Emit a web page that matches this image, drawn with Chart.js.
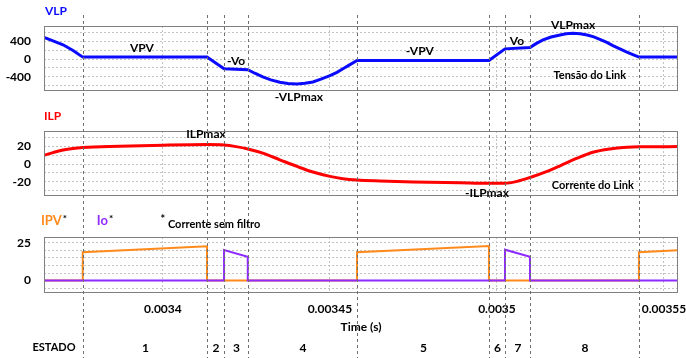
<!DOCTYPE html>
<html>
<head>
<meta charset="utf-8">
<script src="https://cdn.jsdelivr.net/npm/chart.js@4.4.1/dist/chart.umd.min.js"></script>
<style>
  html, body { margin: 0; padding: 0; background: #ffffff; }
  #wrap { position: relative; width: 686px; height: 358px; overflow: hidden; }
  #wrap canvas { position: absolute; left: 0; top: 0; }
</style>
</head>
<body>
<div id="wrap">
  <canvas id="cVlp" width="686" height="358"></canvas>
  <canvas id="cIlp" width="686" height="358"></canvas>
  <canvas id="cIpv" width="686" height="358"></canvas>
</div>
<script>
// ---- time axis (s) ----
const timeTicks = [0.0034, 0.00345, 0.0035, 0.00355];
const timeTickLabels = ['0.0034', '0.00345', '0.0035', '0.00355'];
const timeMin = 0.0033644;
const timeMax = 0.0035542;

// ---- switching states: boundaries and names ----
const stateBounds = [0.0033760, 0.0034132, 0.0034183, 0.0034254, 0.0034581,
                     0.0034976, 0.0035024, 0.0035099, 0.0035425];
const stateNames = ['1', '2', '3', '4', '5', '6', '7', '8'];

// ---- link voltage VLP (V) ----
const vlpTime = [0.0033644, 0.0033671, 0.0033701, 0.0033731, 0.0033760,
                 0.0034132, 0.0034183, 0.0034254, 0.0034275, 0.0034299,
                 0.0034323, 0.0034350, 0.0034374, 0.0034401, 0.0034425,
                 0.0034449, 0.0034473, 0.0034500, 0.0034521, 0.0034539,
                 0.0034560, 0.0034581, 0.0034976, 0.0035024, 0.0035099,
                 0.0035117, 0.0035138, 0.0035162, 0.0035189, 0.0035207,
                 0.0035228, 0.0035249, 0.0035270, 0.0035290, 0.0035308,
                 0.0035329, 0.0035347, 0.0035368, 0.0035389, 0.0035407,
                 0.0035425, 0.0035542];
const vlpValue = [490, 415, 325, 195, 45,
                  45, -217, -240, -320, -404,
                  -470, -524, -552, -562, -548,
                  -517, -455, -375, -300, -217,
                  -125, -32, -32, 232, 262,
                  350, 434, 500, 547, 572,
                  584, 575, 547, 505, 449,
                  380, 307, 232, 157, 100,
                  45, 45];
const vlpGridValues = [-600, -400, -200, 0, 200, 400, 600];
const vlpTickLabels = [400, 0, -400];

// ---- link current ILP (A) ----
const ilpTime = [0.0033644, 0.0033671, 0.0033701, 0.0033731, 0.0033760,
                 0.0033871, 0.0034000, 0.0034132, 0.0034183, 0.0034219,
                 0.0034254, 0.0034299, 0.0034350, 0.0034401, 0.0034449,
                 0.0034500, 0.0034539, 0.0034581, 0.0034650, 0.0034749,
                 0.0034889, 0.0034976, 0.0035024, 0.0035060, 0.0035099,
                 0.0035150, 0.0035189, 0.0035240, 0.0035287, 0.0035338,
                 0.0035389, 0.0035425, 0.0035542];
const ilpValue = [10, 13, 16, 17.8, 18.8,
                  20.2, 21.4, 22.1, 21.6, 19.8,
                  17.2, 12.4, 4.9, -2.6, -9,
                  -13.9, -16.5, -18, -19.1, -20.2,
                  -21.2, -21.8, -21.8, -19.6, -15.2,
                  -8.2, -1.9, 6.7, 13.5, 17.2,
                  19.1, 19.6, 19.8];
const ilpGridValues = [-30, -20, -10, 0, 10, 20, 30];
const ilpTickLabels = [20, 0, -20];

// ---- unfiltered currents IPV and Io (A) ----
const ipvTime = [0.0033644, 0.0033760, 0.0033760, 0.0034132, 0.0034132,
                 0.0034581, 0.0034581, 0.0034976, 0.0034976, 0.0035425,
                 0.0035425, 0.0035542];
const ipvValue = [0, 0, 18.7, 22.6, 0,
                  0, 18.7, 22.8, 0, 0,
                  18.7, 20];
const ioTime = [0.0033644, 0.0034183, 0.0034183, 0.0034254, 0.0034254,
                0.0035024, 0.0035024, 0.0035099, 0.0035099, 0.0035542];
const ioValue = [0, 0, 20.2, 15.7, 0,
                 0, 20.4, 15.7, 0, 0];
const ipvGridValues = [-5, 0, 5, 10, 15, 20, 25];
const ipvTickLabels = [25, 0];

const FONT = 'Lato, "Liberation Sans", Arial, sans-serif';
const BLUE = '#0a0aff', RED = '#ff0000', ORANGE = '#ff8a1c', PURPLE = '#8f2bff';
const GRID = '#c2c2c2', FRAME = '#808080';

const pts = (xs, ys) => xs.map((x, i) => ({ x: x, y: ys[i] }));

function timeAxis(withLabels) {
  return {
    type: 'linear',
    min: timeMin,
    max: timeMax,
    afterBuildTicks: s => { s.ticks = timeTicks.map(v => ({ value: v })); },
    afterFit: s => { s.height = withLabels ? 42 : 0; s.paddingLeft = 0; s.paddingRight = 0; },
    grid: { color: GRID, lineWidth: 1, drawTicks: false },
    border: { display: false, dash: [2, 2] },
    ticks: {
      display: withLabels, autoSkip: false, maxRotation: 0, padding: 10,
      color: '#000', font: { family: FONT, size: 12, weight: 'bold' },
      callback: (v, i) => timeTickLabels[i]
    },
    title: {
      display: withLabels, text: 'Time (s)', padding: 0, color: '#000',
      font: { family: FONT, size: 12, weight: 'bold' }
    }
  };
}

function valueAxis(min, max, gridValues, labels) {
  return {
    type: 'linear',
    min: min, max: max,
    afterBuildTicks: s => { s.ticks = gridValues.map(v => ({ value: v })); },
    afterFit: s => { s.width = 44; s.paddingTop = 0; s.paddingBottom = 0; },
    grid: { color: GRID, lineWidth: 1, drawTicks: false },
    border: { display: false, dash: [2, 2] },
    ticks: {
      autoSkip: false, padding: 13, color: '#000',
      font: { family: FONT, size: 12, weight: 'bold' },
      callback: (v, i) => labels.includes(gridValues[i]) ? String(gridValues[i]) : ''
    }
  };
}

// frame around the plot area plus text notes placed in data coordinates
function panelDecor(notes) {
  return {
    id: 'panelDecor',
    afterDraw(chart) {
      const { ctx, chartArea: a, scales } = chart;
      ctx.save();
      ctx.strokeStyle = FRAME;
      ctx.lineWidth = 1;
      ctx.strokeRect(Math.round(a.left) + 0.5, Math.round(a.top) + 0.5,
                     Math.round(a.right - a.left) - 1, Math.round(a.bottom - a.top));
      ctx.textBaseline = 'middle';
      notes.forEach(n => {
        const x = scales.x.getPixelForValue(n.t);
        const y = scales.y.getPixelForValue(n.v);
        ctx.font = 'bold ' + (n.size || 12) + 'px ' + FONT;
        ctx.fillStyle = n.color || '#000';
        ctx.textAlign = n.align || 'center';
        ctx.fillText(n.text, x, y);
        if (n.sup) {
          const w = ctx.measureText(n.text).width;
          const sx = (n.align === 'left') ? x + w + 1 : x + w / 2 + 1;
          ctx.font = 'bold 10px ' + FONT;
          ctx.fillStyle = '#000';
          ctx.textAlign = 'left';
          ctx.fillText(n.sup, sx, y - 2);
        }
      });
      ctx.restore();
    }
  };
}

// dashed state boundaries across all panels and the state row
const stateDecor = {
  id: 'stateDecor',
  afterDraw(chart) {
    const { ctx, scales, chartArea: a } = chart;
    const xs = stateBounds.map(t => Math.round(scales.x.getPixelForValue(t)) + 0.5);
    ctx.save();
    ctx.strokeStyle = '#707070';
    ctx.lineWidth = 1;
    ctx.setLineDash([3, 3]);
    xs.forEach(x => {
      ctx.beginPath();
      ctx.moveTo(x, 15);
      ctx.lineTo(x, 358);
      ctx.stroke();
    });
    ctx.setLineDash([]);
    const rowY = a.bottom + 55;
    ctx.fillStyle = '#000';
    ctx.textBaseline = 'middle';
    ctx.textAlign = 'center';
    ctx.font = 'bold 11px ' + FONT;
    ctx.fillText('ESTADO', 54, rowY);
    ctx.font = 'bold 12px ' + FONT;
    stateNames.forEach((s, i) => {
      ctx.fillText(s, (xs[i] + xs[i + 1]) / 2, rowY + 1);
    });
    ctx.restore();
  }
};

function baseOptions(pad, xWithLabels, yAxis) {
  return {
    responsive: false,
    animation: false,
    devicePixelRatio: 1,
    layout: { padding: pad },
    plugins: { legend: { display: false }, tooltip: { enabled: false } },
    elements: { point: { radius: 0 } },
    scales: { x: timeAxis(xWithLabels), y: yAxis }
  };
}

// Panel 1: VLP
new Chart(document.getElementById('cVlp'), {
  type: 'line',
  data: { datasets: [{ data: pts(vlpTime, vlpValue), borderColor: BLUE, borderWidth: 3, tension: 0 }] },
  options: baseOptions({ left: 0, right: 8, top: 26, bottom: 268 }, false,
                       valueAxis(-700, 750, vlpGridValues, vlpTickLabels)),
  plugins: [panelDecor([
    { text: 'VLP', t: 0.0033647, v: 1087, color: BLUE, align: 'left' },
    { text: 'VPV', t: 0.0033937, v: 254 },
    { text: '-Vo', t: 0.0034219, v: -38 },
    { text: '-VLPmax', t: 0.0034407, v: -870 },
    { text: '-VPV', t: 0.0034769, v: 187 },
    { text: 'Vo', t: 0.0035060, v: 412 },
    { text: 'VLPmax', t: 0.0035228, v: 772 },
    { text: 'Tensão do Link', t: 0.0035278, v: -364, size: 11 }
  ])]
});

// Panel 2: ILP
new Chart(document.getElementById('cIlp'), {
  type: 'line',
  data: { datasets: [{ data: pts(ilpTime, ilpValue), borderColor: RED, borderWidth: 3, cubicInterpolationMode: 'monotone' }] },
  options: baseOptions({ left: 0, right: 8, top: 131, bottom: 163 }, false,
                       valueAxis(-35, 37.5, ilpGridValues, ilpTickLabels)),
  plugins: [panelDecor([
    { text: 'ILP', t: 0.0033644, v: 54.9, color: RED, align: 'left' },
    { text: 'ILPmax', t: 0.0034129, v: 34.4 },
    { text: '-ILPmax', t: 0.0034970, v: -32.6 },
    { text: 'Corrente do Link', t: 0.0035287, v: -24, size: 11 }
  ])]
});

// Panel 3: IPV and Io
new Chart(document.getElementById('cIpv'), {
  type: 'line',
  data: { datasets: [
    { data: pts(ioTime, ioValue), borderColor: PURPLE, borderWidth: 2, tension: 0, order: 0 },
    { data: pts(ipvTime, ipvValue), borderColor: ORANGE, borderWidth: 2, tension: 0, order: 1 }
  ] },
  options: baseOptions({ left: 0, right: 8, top: 237, bottom: 24 }, true,
                       valueAxis(-7.5, 28.75, ipvGridValues, ipvTickLabels)),
  plugins: [panelDecor([
    { text: 'IPV', t: 0.0033635, v: 39.6, color: ORANGE, align: 'left', size: 13, sup: '*' },
    { text: 'Io', t: 0.0033802, v: 39.6, color: PURPLE, align: 'left', size: 13, sup: '*' },
    { text: '*', t: 0.0034, v: 40.5, size: 11 },
    { text: 'Corrente sem filtro', t: 0.0034015, v: 37, size: 11, align: 'left' }
  ]), stateDecor]
});
</script>
</body>
</html>
